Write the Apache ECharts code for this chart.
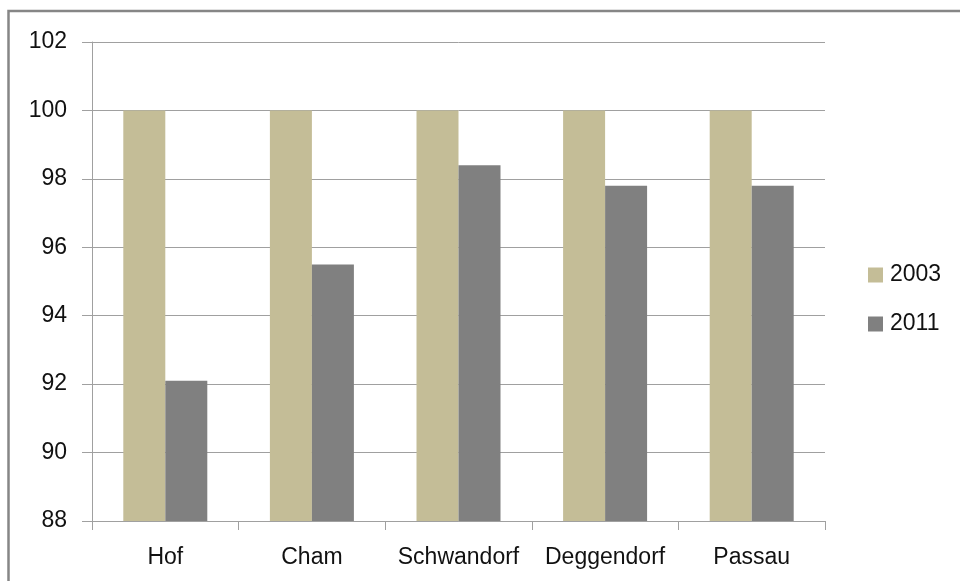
<!DOCTYPE html>
<html>
<head>
<meta charset="utf-8">
<script src="https://cdn.jsdelivr.net/npm/echarts@6/dist/echarts.min.js"></script>
<style>
html,body{margin:0;padding:0;background:#fff;}
#chart{width:960px;height:581px;}
</style>
</head>
<body>
<div id="chart"></div>
<script>
const categories = ['Hof', 'Cham', 'Schwandorf', 'Deggendorf', 'Passau'];
const seriesNames = ['2003', '2011'];
const values2003 = [100, 100, 100, 100, 100];
const values2011 = [92.1, 95.5, 98.4, 97.8, 97.8];
const yTicks = [88, 90, 92, 94, 96, 98, 100, 102];

const FONT = '"Liberation Sans", Arial, sans-serif';
const chart = echarts.init(document.getElementById('chart'), null, {renderer: 'canvas'});
chart.setOption({
  animation: false,
  backgroundColor: '#ffffff',
  textStyle: {fontFamily: FONT},
  graphic: [{
    type: 'rect', silent: true,
    shape: {x: 8.5, y: 11, width: 1200, height: 1200},
    style: {fill: 'none', stroke: '#868686', lineWidth: 2.5}
  }],
  grid: {left: 92, right: 135, top: 42, bottom: 60, containLabel: false},
  legend: {
    orient: 'vertical', left: 868, top: 263, padding: 0,
    itemWidth: 15, itemHeight: 15, itemGap: 25,
    icon: 'rect',
    data: seriesNames,
    textStyle: {fontFamily: FONT, fontSize: 23, color: '#111', lineHeight: 24, padding: [0,0,0,2]}
  },
  xAxis: {
    type: 'category', data: categories,
    axisLine: {lineStyle: {color: '#a0a0a0', width: 1}},
    axisTick: {show: true, alignWithLabel: false, length: 9, lineStyle: {color: '#a0a0a0'}},
    axisLabel: {fontFamily: FONT, fontSize: 23, color: '#111', margin: 25, interval: 0}
  },
  yAxis: {
    type: 'value', min: yTicks[0], max: yTicks[yTicks.length-1], interval: 2,
    axisLine: {show: true, lineStyle: {color: '#a0a0a0', width: 1}},
    axisTick: {show: true, length: 10, inside: false, lineStyle: {color: '#a0a0a0'}},
    splitLine: {show: true, lineStyle: {color: '#a0a0a0', width: 1}},
    axisLabel: {fontFamily: FONT, fontSize: 23, color: '#111', margin: 25}
  },
  series: [
    {name: seriesNames[0], type: 'bar', data: values2003, barWidth: 42, barGap: '0%',
     itemStyle: {color: '#c4bd97'}},
    {name: seriesNames[1], type: 'bar', data: values2011, barWidth: 42, barGap: '0%',
     itemStyle: {color: '#808080'}}
  ]
});
</script>
</body>
</html>
